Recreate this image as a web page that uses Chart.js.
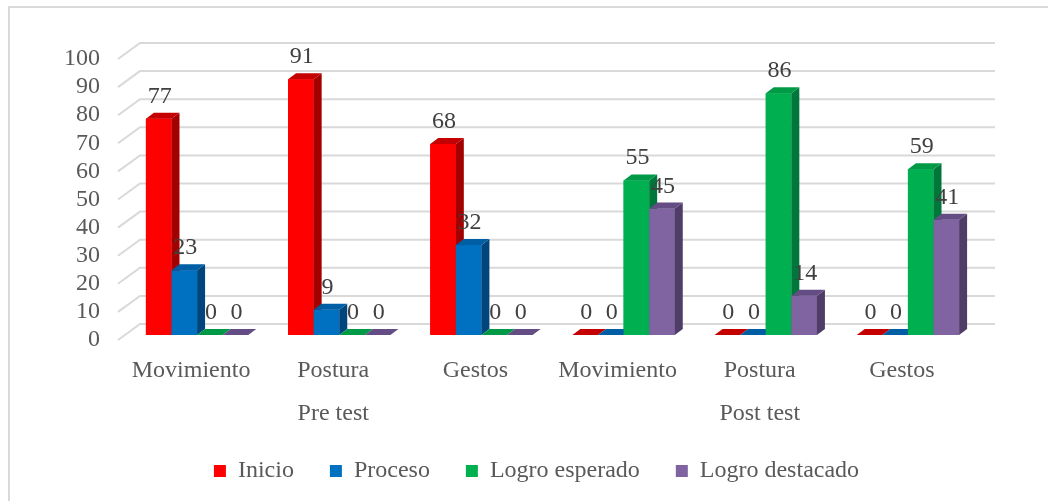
<!DOCTYPE html>
<html>
<head>
<meta charset="utf-8">
<script src="https://cdn.jsdelivr.net/npm/chart.js@4/dist/chart.umd.min.js"></script>
<style>
  html, body { margin: 0; padding: 0; background: #ffffff; }
  #wrap { width: 1048px; height: 501px; }
</style>
</head>
<body>
<div id="wrap"><canvas id="resultChart" width="1048" height="501"></canvas></div>
<script>
var categories = ["Movimiento", "Postura", "Gestos", "Movimiento", "Postura", "Gestos"];
var groupLabels = ["Pre test", "Post test"];
var yTicks = [0, 10, 20, 30, 40, 50, 60, 70, 80, 90, 100];
var inicio = [77, 91, 68, 0, 0, 0];
var proceso = [23, 9, 32, 0, 0, 0];
var logroEsperado = [0, 0, 0, 55, 86, 59];
var logroDestacado = [0, 0, 0, 45, 14, 41];

var textFont = "'Liberation Serif', serif";
var DX = 8, DY = 6; // bar depth

// side / top colours for fake 3d
var shades = [
  { side: "#a30000", top: "#c40000" },
  { side: "#00467c", top: "#005ea4" },
  { side: "#00773a", top: "#009a47" },
  { side: "#4f3d68", top: "#634d84" },
];

function poly(ctx, pts, fill) {
  ctx.beginPath();
  ctx.moveTo(pts[0][0], pts[0][1]);
  for (var i = 1; i < pts.length; i++) ctx.lineTo(pts[i][0], pts[i][1]);
  ctx.closePath();
  ctx.fillStyle = fill;
  ctx.fill();
}

var frame3d = {
  id: "frame3d",
  afterLayout: function (chart) {
    // legend sits a bit right of the plot centre in the original
    chart.legend.left = 94;
  },
  beforeDraw: function (chart) {
    var ctx = chart.ctx;
    ctx.save();
    ctx.strokeStyle = "#d9d9d9";
    ctx.lineWidth = 2;
    ctx.strokeRect(9, 7, 1100, 600);
    ctx.restore();
  },
  beforeDatasetsDraw: function (chart) {
    var ctx = chart.ctx;
    var ys = chart.scales.y;
    var area = chart.chartArea;
    ctx.save();
    ctx.strokeStyle = "#d9d9d9";
    ctx.lineWidth = 2;
    yTicks.forEach(function (v) {
      var yb = ys.getPixelForValue(v);
      ctx.beginPath();
      ctx.moveTo(area.left - 8, yb + 5);
      ctx.lineTo(area.left + 14, yb - 11);
      ctx.lineTo(area.right + 16, yb - 11);
      ctx.stroke();
    });
    ctx.restore();
  },
  afterDatasetsDraw: function (chart) {
    var ctx = chart.ctx;
    var n = chart.data.labels.length;
    ctx.save();
    // paint bars category by category, left to right, so faces overlap correctly
    for (var i = 0; i < n; i++) {
      chart.data.datasets.forEach(function (ds, d) {
        var bar = chart.getDatasetMeta(d).data[i];
        var l = bar.x - bar.width / 2, r = bar.x + bar.width / 2;
        var t = bar.y, b = bar.base;
        if (b - t > 0.5) {
          ctx.fillStyle = ds.backgroundColor;
          ctx.fillRect(l, t, r - l, b - t);
          poly(ctx, [[r, t], [r + DX, t - DY], [r + DX, b - DY], [r, b]], shades[d].side);
        }
        poly(ctx, [[l, t], [l + DX, t - DY], [r + DX, t - DY], [r, t]], shades[d].top);
      });
    }
    // value labels
    ctx.fillStyle = "#404040";
    ctx.font = "24px " + textFont;
    ctx.textAlign = "center";
    ctx.textBaseline = "alphabetic";
    chart.data.datasets.forEach(function (ds, d) {
      chart.getDatasetMeta(d).data.forEach(function (bar, i) {
        ctx.fillText(String(ds.data[i]), bar.x + 1, bar.y - 16);
      });
    });
    // second level category labels
    ctx.fillStyle = "#595959";
    ctx.textBaseline = "middle";
    var xs = chart.scales.x;
    groupLabels.forEach(function (g, k) {
      ctx.fillText(g, xs.getPixelForValue(k * 3 + 1) - 6, 414);
    });
    ctx.restore();
  },
};

var ctx = document.getElementById("resultChart").getContext("2d");
var resultChart = new Chart(ctx, {
  type: "bar",
  data: {
    labels: categories,
    datasets: [
      { label: "Inicio", data: inicio, backgroundColor: "#ff0000" },
      { label: "Proceso", data: proceso, backgroundColor: "#0070c0" },
      { label: "Logro esperado", data: logroEsperado, backgroundColor: "#00b050" },
      { label: "Logro destacado", data: logroDestacado, backgroundColor: "#8064a2" },
    ],
  },
  options: {
    responsive: false,
    animation: false,
    devicePixelRatio: 1,
    layout: { padding: { top: 54, left: 0, right: 69, bottom: 8 } },
    datasets: { bar: { barPercentage: 1, categoryPercentage: 0.72 } },
    scales: {
      x: {
        grid: { display: false, drawTicks: false },
        border: { display: false },
        ticks: {
          color: "#595959",
          font: { family: textFont, size: 24 },
          padding: 21,
          labelOffset: -6,
          maxRotation: 0,
          autoSkip: false,
        },
        afterFit: function (scale) { scale.height = 88; },
      },
      y: {
        min: 0,
        max: 100,
        grid: { display: false, drawTicks: false },
        border: { display: false },
        ticks: {
          stepSize: 10,
          autoSkip: false,
          color: "#595959",
          font: { family: textFont, size: 24 },
          padding: 26,
          labelOffset: 5,
        },
        afterFit: function (scale) { scale.width = 126; },
      },
    },
    plugins: {
      legend: {
        position: "bottom",
        labels: {
          boxWidth: 12,
          boxHeight: 12,
          padding: 36,
          color: "#595959",
          font: { family: textFont, size: 24 },
        },
      },
      tooltip: { enabled: false },
    },
  },
  plugins: [frame3d],
});
</script>
</body>
</html>
